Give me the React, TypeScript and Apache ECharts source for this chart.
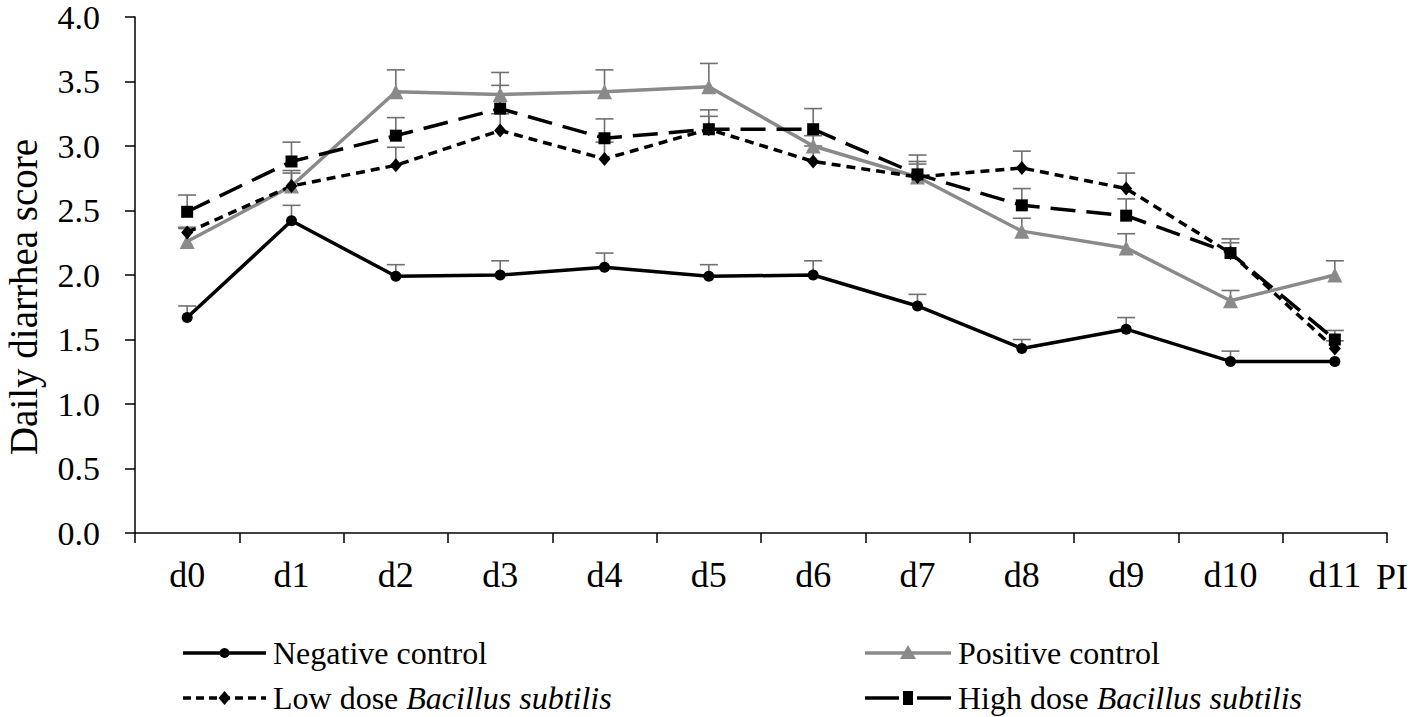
import React, { useEffect, useRef } from "react";
import * as echarts from "echarts";

const categories = ["d0", "d1", "d2", "d3", "d4", "d5", "d6", "d7", "d8", "d9", "d10", "d11"];
const yTicks = [0, 0.5, 1.0, 1.5, 2.0, 2.5, 3.0, 3.5, 4.0];

const negativeControl = [1.67, 2.42, 1.99, 2.0, 2.06, 1.99, 2.0, 1.76, 1.43, 1.58, 1.33, 1.33];
const negativeErr = [0.09, 0.12, 0.09, 0.11, 0.11, 0.09, 0.11, 0.09, 0.07, 0.09, 0.08, 0.0];

const positiveControl = [2.26, 2.69, 3.42, 3.4, 3.42, 3.46, 3.0, 2.76, 2.34, 2.21, 1.8, 2.0];
const positiveErr = [0.1, 0.1, 0.17, 0.17, 0.17, 0.18, 0.08, 0.12, 0.1, 0.11, 0.08, 0.11];

const lowDose = [2.33, 2.69, 2.85, 3.12, 2.9, 3.13, 2.88, 2.76, 2.83, 2.67, 2.17, 1.43];
const lowErr = [0.04, 0.12, 0.14, 0.13, 0.13, 0.1, 0.12, 0.1, 0.13, 0.12, 0.08, 0.06];

const highDose = [2.49, 2.88, 3.08, 3.29, 3.06, 3.13, 3.13, 2.78, 2.54, 2.46, 2.17, 1.5];
const highErr = [0.13, 0.15, 0.14, 0.18, 0.15, 0.15, 0.16, 0.15, 0.13, 0.13, 0.11, 0.07];

const FONT = "'Liberation Serif', 'Times New Roman', serif";

function errData(vals: number[], errs: number[]) {
  return vals.map((v, i) => [i, v, errs[i]]);
}

function errSeries(name: string, vals: number[], errs: number[]) {
  return {
    type: "custom",
    name: name + " err",
    z: 1,
    silent: true,
    data: errData(vals, errs),
    renderItem: (params: any, api: any) => {
      const x = api.value(0);
      const y = api.value(1);
      const e = api.value(2);
      if (!e) return { type: "group", children: [] };
      const p0 = api.coord([x, y]);
      const p1 = api.coord([x, y + e]);
      const st = { stroke: "#707070", lineWidth: 1.6 };
      return {
        type: "group",
        children: [
          { type: "line", shape: { x1: p0[0], y1: p0[1], x2: p1[0], y2: p1[1] }, style: st },
          { type: "line", shape: { x1: p1[0] - 9, y1: p1[1], x2: p1[0] + 9, y2: p1[1] }, style: st },
        ],
      };
    },
  };
}

export default function App() {
  const ref = useRef<HTMLDivElement>(null);
  useEffect(() => {
    if (!ref.current) return;
    const chart = echarts.init(ref.current, null, { renderer: "svg" });

    const legendItems = [
      { x1: 183, x2: 266, y: 653, color: "#000", dash: null as any, marker: "circle", tx: 273, text: "{n|Negative control}" },
      { x1: 865, x2: 951, y: 653, color: "#8a8a8a", dash: null as any, marker: "triangle", tx: 958, text: "{n|Positive control}" },
      { x1: 183, x2: 266, y: 698, color: "#000", dash: [8, 5], marker: "diamond", tx: 273, text: "{n|Low dose }{i|Bacillus subtilis}" },
      { x1: 865, x2: 951, y: 698, color: "#000", dash: null as any, marker: "rect", tx: 958, text: "{n|High dose }{i|Bacillus subtilis}" },
    ];

    const LF = 32;
    const graphics: any[] = [];
    legendItems.forEach((it) => {
      const mx = (it.x1 + it.x2) / 2;
      if (it.marker === "rect") {
        graphics.push({ type: "line", shape: { x1: it.x1, y1: it.y, x2: mx - 9, y2: it.y }, style: { stroke: it.color, lineWidth: 3.5 } });
        graphics.push({ type: "line", shape: { x1: mx + 9, y1: it.y, x2: it.x2, y2: it.y }, style: { stroke: it.color, lineWidth: 3.5 } });
      } else {
        graphics.push({
          type: "line",
          shape: { x1: it.x1, y1: it.y, x2: it.x2, y2: it.y },
          style: { stroke: it.color, lineWidth: 3.5, lineDash: it.dash || undefined },
        });
      }
      if (it.marker === "circle") {
        graphics.push({ type: "circle", shape: { cx: mx, cy: it.y, r: 5 }, style: { fill: it.color } });
      } else if (it.marker === "triangle") {
        graphics.push({ type: "polygon", shape: { points: [[mx, it.y - 8], [mx - 8, it.y + 6], [mx + 8, it.y + 6]] }, style: { fill: it.color } });
      } else if (it.marker === "diamond") {
        graphics.push({ type: "polygon", shape: { points: [[mx, it.y - 7], [mx - 6, it.y], [mx, it.y + 7], [mx + 6, it.y]] }, style: { fill: it.color } });
      } else {
        graphics.push({ type: "rect", shape: { x: mx - 5, y: it.y - 7, width: 10, height: 14 }, style: { fill: it.color } });
      }
      graphics.push({
        type: "text",
        x: it.tx,
        y: it.y,
        style: {
          text: it.text,
          verticalAlign: "middle",
          align: "left",
          fontFamily: FONT,
          fontSize: LF,
          fill: "#000",
          rich: {
            n: { fontFamily: FONT, fontSize: LF, fill: "#000" },
            i: { fontFamily: FONT, fontSize: LF, fontStyle: "italic", fill: "#000" },
          },
        },
      });
    });

    graphics.push({
      type: "text",
      x: 1376,
      y: 577,
      style: { fontFamily: FONT, fontSize: 36, fill: "#000", text: "PI", verticalAlign: "middle", align: "left" },
    });
    graphics.push({
      type: "text",
      x: 23,
      y: 297,
      rotation: Math.PI / 2,
      style: { fontFamily: FONT, fontSize: 39, fill: "#000", text: "Daily diarrhea score", verticalAlign: "middle", align: "center" },
    });

    const lineSeries = (name: string, data: number[], color: string, symbol: string, size: any, dash: any) => ({
      type: "line",
      name,
      data,
      z: 3,
      symbol,
      symbolSize: size,
      lineStyle: { color, width: 3.5, type: dash },
      itemStyle: { color },
    });

    chart.setOption({
      animation: false,
      backgroundColor: "#fff",
      grid: { left: 135, right: 24, top: 15, bottom: 184 },
      xAxis: {
        type: "category",
        data: categories,
        boundaryGap: true,
        axisLine: { lineStyle: { color: "#000", width: 1.5 } },
        axisTick: { show: true, length: 10, lineStyle: { color: "#000", width: 1.5 } },
        axisLabel: { color: "#000", fontFamily: FONT, fontSize: 36, margin: 24 },
        splitLine: { show: false },
      },
      yAxis: {
        type: "value",
        min: yTicks[0],
        max: yTicks[yTicks.length - 1],
        interval: 0.5,
        axisLine: { show: true, lineStyle: { color: "#000", width: 1.5 } },
        axisTick: { show: true, length: 10, lineStyle: { color: "#000", width: 1.5 } },
        axisLabel: { color: "#000", fontFamily: FONT, fontSize: 34, margin: 35, formatter: (v: number) => v.toFixed(1) },
        splitLine: { show: false },
      },
      series: [
        errSeries("Negative control", negativeControl, negativeErr),
        errSeries("Positive control", positiveControl, positiveErr),
        errSeries("Low dose", lowDose, lowErr),
        errSeries("High dose", highDose, highErr),
        lineSeries("Negative control", negativeControl, "#000", "circle", 11, "solid"),
        lineSeries("Positive control", positiveControl, "#8a8a8a", "triangle", 15, "solid"),
        lineSeries("Low dose Bacillus subtilis", lowDose, "#000", "diamond", [12, 14], [9, 6]),
        lineSeries("High dose Bacillus subtilis", highDose, "#000", "rect", 12, [25, 11]),
      ],
      graphic: graphics,
    });
    return () => chart.dispose();
  }, []);

  return (
    <div
      ref={ref}
      style={{ position: "fixed", left: 0, top: 0, width: 1411, height: 717, background: "#fff" }}
    />
  );
}
